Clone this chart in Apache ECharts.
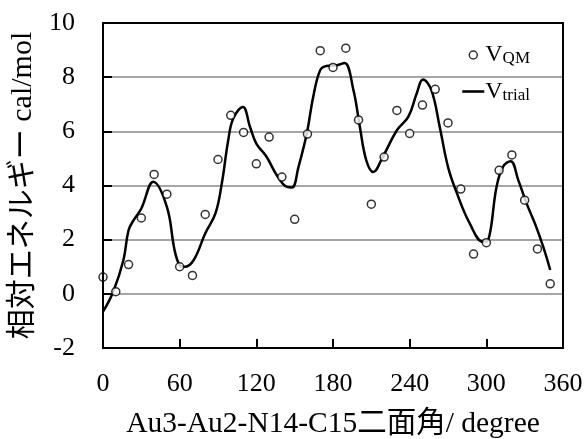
<!DOCTYPE html>
<html>
<head>
<meta charset="utf-8">
<script src="https://cdn.jsdelivr.net/npm/echarts@6/dist/echarts.min.js"></script>
<style>
  html, body { margin: 0; padding: 0; background: #fff; }
  #chart { width: 587px; height: 439px; }
</style>
</head>
<body>
<div id="chart"></div>
<script>
// dihedral angle (degree) of the QM scan points
const qmAngles = [0, 10, 20, 30, 40, 50, 60, 70, 80, 90, 100, 110, 120, 130, 140, 150, 160, 170,
  180, 190, 200, 210, 220, 230, 240, 250, 260, 270, 280, 290, 300, 310, 320, 330, 340, 350];
const qmEnergy = [0.62, 0.08, 1.08, 2.8, 4.41, 3.68, 1.0, 0.68, 2.93, 4.96, 6.59, 5.96, 4.8, 5.79,
  4.31, 2.75, 5.9, 8.98, 8.36, 9.07, 6.42, 3.31, 5.05, 6.77, 5.92, 6.97, 7.55, 6.31,
  3.87, 1.47, 1.89, 4.56, 5.13, 3.46, 1.66, 0.37];

// fitted (trial) curve
const trialAngles = [0, 8, 16, 20, 24, 30, 39.4, 50, 56, 60, 64, 71, 80, 88, 93, 98, 102, 109.5,
  115, 120, 128, 136, 144, 148, 153, 159.5, 164.5, 170, 175, 183, 189, 196, 201, 206,
  211.5, 219, 230, 239, 245.5, 250.5, 257, 263.5, 270, 277, 287, 297.5, 301.5, 308,
  313, 319, 325, 331.5, 338, 344.5, 350];
const trialEnergy = [-0.66, 0.08, 1.25, 2.35, 2.72, 3.15, 4.14, 3.21, 1.62, 1.06, 1.0, 1.25, 2.23,
  2.97, 4.08, 5.67, 6.48, 6.9, 6.17, 5.55, 5.06, 4.38, 3.95, 3.93, 4.69, 5.92, 7.27,
  8.26, 8.41, 8.44, 8.52, 7.52, 6.17, 4.94, 4.5, 5.06, 6.04, 6.54, 7.4, 7.91, 7.52,
  6.17, 4.69, 3.71, 2.6, 1.92, 1.98, 3.95, 4.69, 4.9, 4.2, 3.34, 2.6, 1.74, 0.88];

const serif = "'Liberation Serif', 'Noto Sans CJK JP', serif";

const gridBox = { left: 103, top: 23, width: 460, height: 325 };

const chart = echarts.init(document.getElementById('chart'));

chart.setOption({
  animation: false,
  grid: {
    left: gridBox.left, top: gridBox.top, width: gridBox.width, height: gridBox.height,
    outerBoundsMode: 'none'
  },
  // frame round the plot area
  graphic: [{
    type: 'rect',
    shape: { x: gridBox.left, y: gridBox.top, width: gridBox.width, height: gridBox.height },
    style: { fill: 'none', stroke: '#000', lineWidth: 2 },
    silent: true,
    z: 10
  }],
  legend: {
    orient: 'vertical',
    right: 52,
    top: 38,
    align: 'left',
    itemGap: 12,
    itemWidth: 22,
    itemHeight: 8,
    formatter: function (name) {
      return name === 'QM' ? 'V{sub|QM}' : 'V{sub|trial}';
    },
    textStyle: {
      fontFamily: serif,
      fontSize: 24,
      color: '#000',
      padding: [0, 0, 0, -4],
      rich: {
        sub: { fontFamily: serif, fontSize: 17, color: '#000', verticalAlign: 'bottom', padding: [8, 0, 0, 0] }
      }
    },
    data: [
      { name: 'QM', icon: 'circle', itemStyle: { color: '#fff', borderColor: '#000', borderWidth: 1.5 } },
      { name: 'trial', icon: 'path://M0,0L22,0L22,2.6L0,2.6Z', itemStyle: { color: '#000' } }
    ]
  },
  xAxis: {
    type: 'value',
    min: 0, max: 360, interval: 60,
    name: 'Au3-Au2-N14-C15二面角/ degree',
    nameLocation: 'middle',
    nameGap: 61,
    nameTextStyle: { fontFamily: serif, fontSize: 29.5, color: '#000' },
    axisLine: { show: true, onZero: false, lineStyle: { color: '#000', width: 2 } },
    axisTick: { show: true, inside: true, length: 9, lineStyle: { color: '#000', width: 2 } },
    axisLabel: { fontFamily: serif, fontSize: 26, color: '#000', margin: 23 },
    splitLine: { show: false }
  },
  yAxis: {
    type: 'value',
    min: -2, max: 10, interval: 2,
    name: '相対エネルギー cal/mol',
    nameLocation: 'middle',
    nameGap: 62,
    nameTextStyle: { fontFamily: serif, fontSize: 30, color: '#000' },
    axisLine: { show: true, onZero: false, lineStyle: { color: '#000', width: 2 } },
    axisTick: { show: true, inside: true, length: 9, lineStyle: { color: '#000', width: 2 } },
    axisLabel: { fontFamily: serif, fontSize: 26, color: '#000', margin: 28 },
    splitLine: { show: true, lineStyle: { color: '#888', width: 1.5 } }
  },
  series: [
    {
      name: 'trial',
      type: 'line',
      data: trialAngles.map((a, i) => [a, trialEnergy[i]]),
      smooth: 0.4,
      showSymbol: false,
      symbol: 'none',
      lineStyle: { color: '#000', width: 2.5 },
      itemStyle: { color: '#000' },
      z: 2
    },
    {
      name: 'QM',
      type: 'scatter',
      data: qmAngles.map((a, i) => [a, qmEnergy[i]]),
      symbol: 'circle',
      symbolSize: 8,
      itemStyle: { color: '#fff', borderColor: '#000', borderWidth: 1.5 },
      z: 3
    }
  ]
});
</script>
</body>
</html>
